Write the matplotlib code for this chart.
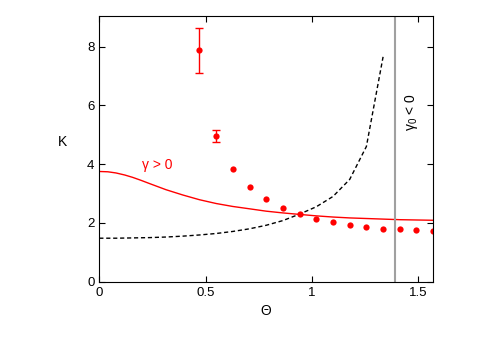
import numpy as np
import matplotlib
matplotlib.use("Agg")
import matplotlib.pyplot as plt

plt.rcParams['font.family'] = ['Liberation Sans', 'DejaVu Sans']

# measured points (red dots), theta = k*pi/40, k = 6..20
theta_pts = np.arange(6, 21) * np.pi / 40
k_pts = [7.88, 4.95, 3.84, 3.22, 2.80, 2.51, 2.32, 2.15, 2.03, 1.94, 1.86, 1.81, 1.78, 1.75, 1.73]
# error bars only on the first points
err_lo = [0.78, 0.20]
err_hi = [0.74, 0.21]

# gamma > 0 curve (red solid)
theta_red = [0, 0.04, 0.0785, 0.12, 0.157, 0.196, 0.236, 0.314, 0.393, 0.471, 0.55,
             0.628, 0.707, 0.785, 0.864, 0.942, 1.021, 1.1, 1.178, 1.257,
             1.335, 1.414, 1.492, 1.571]
k_red = [3.75, 3.74, 3.70, 3.63, 3.55, 3.45, 3.34, 3.13, 2.95, 2.79, 2.66,
         2.56, 2.48, 2.40, 2.34, 2.29, 2.24, 2.20, 2.17, 2.15,
         2.13, 2.11, 2.10, 2.09]

# dashed black curve, theta = k*pi/40, k = 0..17
theta_blk = np.arange(0, 18) * np.pi / 40
k_blk = [1.48, 1.48, 1.49, 1.50, 1.52, 1.55, 1.59, 1.64, 1.71, 1.80, 1.92,
         2.08, 2.30, 2.55, 2.90, 3.48, 4.60, 7.65]

theta_cut = 1.39

fig = plt.figure(figsize=(4.91, 3.43), dpi=100)
ax = fig.add_axes([0.2022, 0.1787, 0.680, 0.7738])

ax.plot(theta_red, k_red, color='red', lw=1.0)
ax.plot(theta_blk, k_blk, color='black', lw=1.0, dashes=(3, 2))
ax.errorbar(theta_pts[:2], k_pts[:2], yerr=[err_lo, err_hi], fmt='none',
            ecolor='red', elinewidth=1, capsize=3, capthick=1)
ax.plot(theta_pts, k_pts, 'o', color='red', ms=4.5, mec='none')
ax.axvline(theta_cut, color='#a0a0a0', lw=1.5)

ax.text(0.2, 3.97, 'γ > 0', color='red', fontsize=10, va='center')
ax.text(1.47, 5.77, r'$\mathregular{\gamma_0}$ < 0', color='black', fontsize=10,
        rotation=90, ha='center', va='center')

ax.set_xlim(0, np.pi / 2)
ax.set_ylim(0, 9.03)
ax.set_xticks([0, 0.5, 1, 1.5])
ax.set_xticklabels(['0', '0.5', '1', '1.5'])
ax.set_yticks([0, 2, 4, 6, 8])
ax.tick_params(direction='in', top=True, right=True, length=4, labelsize=9.5)
ax.set_xlabel('Θ', fontsize=10)
ax.set_ylabel('K', fontsize=10, rotation=0, labelpad=18)

fig.savefig('out.png', dpi=100)
